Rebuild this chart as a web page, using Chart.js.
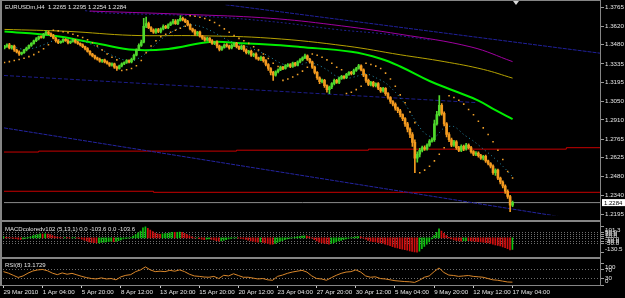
<!DOCTYPE html>
<html>
<head>
<meta charset="utf-8">
<title>EURUSDm,H4</title>
<script src="https://cdn.jsdelivr.net/npm/chart.js@4.4.1/dist/chart.umd.min.js"></script>
<style>
  html, body { margin: 0; padding: 0; background: #000; }
  #wrap { position: relative; width: 625px; height: 298px; overflow: hidden; background: #000; }
  #wrap canvas { position: absolute; left: 0; }
  .ln { position: absolute; background: #858585; }
</style>
</head>
<body>
<div id="wrap">
  <canvas id="priceCv" width="625" height="220" style="top:0"></canvas>
  <canvas id="macdCv" width="625" height="43" style="top:218px"></canvas>
  <canvas id="rsiCv" width="625" height="43" style="top:255px"></canvas>
  <div class="ln" style="left:0;top:0;width:601px;height:1px"></div>
  <div class="ln" style="left:0;top:0;width:2px;height:286px"></div>
  <div class="ln" style="left:600px;top:0;width:1px;height:286px"></div>
  <div class="ln" style="left:0;top:220px;width:601px;height:2px"></div>
  <div class="ln" style="left:0;top:257px;width:601px;height:2px"></div>
  <div class="ln" style="left:0;top:285px;width:601px;height:1px"></div>
</div>
<script>
// --- data (H4 bars, index 0 = first bar on screen) ---
const firstOpen = 1.3455;
const closes = [
  1.3468,1.3480,1.3455,1.3470,1.3440,1.3425,1.3410,1.3420,1.3440,1.3455,1.3475,1.3490,1.3510,1.3525,1.3540,1.3535,
  1.3560,1.3575,1.3565,1.3550,1.3530,1.3510,1.3495,1.3505,1.3520,1.3510,1.3495,1.3505,1.3515,1.3500,1.3490,1.3480,
  1.3465,1.3450,1.3430,1.3410,1.3395,1.3380,1.3370,1.3355,1.3365,1.3350,1.3340,1.3325,1.3335,1.3310,1.3300,1.3320,
  1.3335,1.3345,1.3360,1.3350,1.3370,1.3400,1.3440,1.3475,1.3500,1.3620,1.3640,1.3610,1.3590,1.3575,1.3595,1.3580,
  1.3600,1.3620,1.3610,1.3630,1.3645,1.3660,1.3640,1.3665,1.3680,1.3670,1.3655,1.3630,1.3600,1.3585,1.3560,1.3575,
  1.3545,1.3530,1.3515,1.3530,1.3510,1.3490,1.3500,1.3470,1.3445,1.3460,1.3480,1.3470,1.3455,1.3475,1.3490,1.3465,
  1.3450,1.3470,1.3440,1.3420,1.3430,1.3400,1.3410,1.3380,1.3370,1.3385,1.3360,1.3330,1.3300,1.3270,1.3250,1.3275,
  1.3290,1.3310,1.3300,1.3320,1.3330,1.3315,1.3340,1.3325,1.3350,1.3365,1.3380,1.3395,1.3370,1.3350,1.3310,1.3270,
  1.3230,1.3200,1.3210,1.3170,1.3140,1.3160,1.3185,1.3210,1.3195,1.3225,1.3240,1.3230,1.3255,1.3270,1.3260,1.3285,
  1.3300,1.3320,1.3290,1.3250,1.3210,1.3180,1.3195,1.3170,1.3185,1.3150,1.3130,1.3150,1.3110,1.3080,1.3050,1.3030,
  1.3000,1.2980,1.2950,1.2920,1.2880,1.2840,1.2800,1.2740,1.2620,1.2650,1.2680,1.2700,1.2690,1.2720,1.2750,1.2760,
  1.2880,1.2950,1.3020,1.2960,1.2880,1.2800,1.2760,1.2720,1.2745,1.2700,1.2680,1.2710,1.2690,1.2720,1.2700,1.2670,
  1.2650,1.2660,1.2640,1.2620,1.2635,1.2600,1.2580,1.2560,1.2510,1.2530,1.2470,1.2440,1.2410,1.2370,1.2330,1.2265,
  1.2284
];
// wick lengths in pips above / below the body
const wickUp = [
  8,6,10,5,7,6,9,5,6,8,5,7,6,9,5,8,
  6,10,7,5,8,6,9,5,7,6,8,5,9,6,7,5,
  6,5,8,6,5,7,6,9,5,6,8,5,7,6,9,6,
  7,5,8,6,9,10,8,12,15,60,50,12,8,10,7,9,
  8,10,7,9,8,12,10,8,20,9,7,10,8,6,9,7,
  8,6,9,7,5,8,6,9,7,10,6,8,7,9,6,8,
  7,9,6,8,7,10,6,8,7,9,6,8,7,6,9,8,
  7,9,6,10,8,7,9,6,8,10,9,15,8,7,6,8,
  7,6,9,8,7,6,8,9,7,10,8,6,9,7,8,10,
  9,12,8,7,6,9,8,7,6,9,8,7,6,8,7,6,
  9,8,10,7,9,12,10,15,20,18,15,12,14,10,12,15,
  30,25,74,15,12,10,14,12,10,9,11,12,10,13,9,10,
  8,11,9,10,8,9,7,8,10,9,8,7,9,8,10,9,
  11
];
const wickDn = [
  7,9,6,8,10,7,12,8,6,7,5,8,6,7,9,6,
  7,5,8,9,6,10,7,6,8,5,9,7,6,8,7,9,
  8,9,7,10,8,9,7,8,10,8,7,9,8,10,15,6,
  9,7,6,8,7,6,5,6,8,7,10,9,12,10,9,8,
  10,7,9,8,6,9,7,8,6,9,8,7,8,10,9,12,
  8,10,9,7,12,8,10,15,12,8,7,9,8,7,9,10,
  8,7,10,9,12,8,10,9,8,10,12,10,15,18,40,9,
  8,7,9,6,8,9,7,8,6,7,8,6,8,9,10,12,
  12,15,10,14,20,30,12,9,8,10,7,9,8,7,9,6,
  7,6,9,12,15,10,12,9,10,11,12,10,14,12,15,14,
  15,14,16,15,18,20,25,30,110,30,20,12,10,9,11,8,
  12,10,9,14,15,18,14,12,10,13,11,10,12,9,10,12,
  11,10,12,9,13,11,10,14,12,20,12,15,14,16,15,50,
  11
];
const priceTicks = [1.3765,1.3620,1.3480,1.3335,1.3195,1.3050,1.2910,1.2765,1.2625,1.2480,1.2340,1.2195];
const tickBars = [0,16,32,48,64,80,96,112,128,144,160,176,192,208];
const timeLabels = ['29 Mar 2010','1 Apr 04:00','5 Apr 20:00','8 Apr 12:00','13 Apr 20:00','15 Apr 20:00','20 Apr 12:00',
  '23 Apr 04:00','27 Apr 20:00','30 Apr 12:00','5 May 04:00','9 May 20:00','12 May 12:00','17 May 04:00'];

// moving averages read at sample bars: [bar, price]
const limeMA = [[0,1.3581],[19,1.3551],[39,1.3485],[53,1.3441],[67,1.3448],[84,1.3500],[97,1.3492],[111,1.3478],[121,1.3463],
  [142,1.3426],[154,1.3374],[162,1.3315],[174,1.3205],[184,1.3131],[194,1.3057],[201,1.2984],[208,1.2917]];
const oliveMA = [[0,1.3596],[26,1.3581],[52,1.3551],[80,1.3548],[109,1.3529],[140,1.3470],[162,1.3404],[180,1.3352],[196,1.3293],[208,1.3227]];
const purpleMA = [[35,1.3735],[80,1.3706],[109,1.3680],[134,1.3632],[162,1.3559],[191,1.3463],[208,1.3352]];
const navyMA = [[33,1.3738],[41,1.3721],[78,1.3699],[110,1.3654],[136,1.3595],[157,1.3559],[175,1.3514]];
const tealMA = [1.3470,1.3460,1.3445,1.3455,1.3480,1.3510,1.3520,1.3515,1.3505,1.3480,1.3440,1.3400,1.3370,1.3355,1.3390,1.3450,
  1.3520,1.3570,1.3610,1.3630,1.3620,1.3590,1.3550,1.3510,1.3485,1.3460,1.3430,1.3395,1.3350,1.3320,1.3320,1.3345,1.3330,
  1.3290,1.3240,1.3225,1.3240,1.3260,1.3230,1.3190,1.3120,1.3030,1.2910,1.2810,1.2780,1.2850,1.2860,1.2800,1.2750,1.2690,
  1.2630,1.2560,1.2480]; // every 4th bar
const sar = [
  [0,1.3345],[2,1.3352],[4,1.3360],[6,1.3368],[8,1.3378],[10,1.3390],[12,1.3405],[14,1.3425],[16,1.3450],[18,1.3480],
  [20,1.3590],[22,1.3585],[24,1.3578],[26,1.3570],[28,1.3560],[30,1.3548],[32,1.3535],[34,1.3518],[36,1.3495],[38,1.3470],
  [40,1.3440],[42,1.3410],[44,1.3385],[46,1.3365],
  [48,1.3285],[50,1.3290],[52,1.3300],[54,1.3320],[56,1.3360],[58,1.3420],[60,1.3470],[62,1.3510],[64,1.3540],[66,1.3560],
  [68,1.3575],[70,1.3590],[72,1.3605],[74,1.3620],
  [76,1.3700],[78,1.3695],[80,1.3688],[82,1.3678],[84,1.3665],[86,1.3648],[88,1.3625],[90,1.3600],[92,1.3575],[94,1.3550],
  [96,1.3528],[98,1.3510],[100,1.3490],[102,1.3465],[104,1.3440],[106,1.3410],[108,1.3375],[110,1.3340],[112,1.3315],
  [114,1.3210],[116,1.3220],[118,1.3235],[120,1.3255],[122,1.3280],[124,1.3310],
  [126,1.3410],[128,1.3400],[130,1.3385],[132,1.3365],[134,1.3340],[136,1.3310],[138,1.3290],
  [140,1.3110],[142,1.3120],[144,1.3140],[146,1.3165],
  [148,1.3340],[150,1.3330],[152,1.3318],[154,1.3300],[156,1.3265],[158,1.3220],[160,1.3165],[162,1.3100],[164,1.3040],
  [166,1.2970],[168,1.2890],
  [170,1.2510],[172,1.2530],[174,1.2560],[176,1.2600],[178,1.2650],[180,1.2700],
  [182,1.3094],[184,1.3080],[186,1.3060],[188,1.3030],[190,1.2990],[192,1.2950],[194,1.2900],[196,1.2850],[198,1.2800],
  [200,1.2745],[202,1.2680],[204,1.2610],[206,1.2520],[208,1.2470]
];
// trend lines / levels: [bar, price]
const navyTop = [[90.5,1.3783],[244.2,1.3415]];
const navyMid = [[-0.2,1.3247],[193.5,1.3041]];
const navyLow = [[-0.2,1.2850],[244.2,1.2128]];
const redHigh = [[-0.2,1.2667],[14,1.2674],[95,1.2681],[149,1.2689],[230,1.2700],[244.2,1.2700]];
const redLow = [[-0.2,1.2370],[61,1.2362],[244.2,1.2362]];

const macd = [
  8,5,2,0,-4,-8,-12,-14,-10,-5,2,10,18,25,30,35,
  33,36,34,28,20,12,6,2,0,3,2,-2,0,2,-3,-5,
  -12,-20,-28,-35,-40,-42,-45,-44,-40,-38,-36,-34,-30,-33,-32,-25,
  -18,-10,-5,-2,2,15,30,45,60,90,101.3,85,70,55,42,35,
  32,35,38,40,45,50,48,50,52,48,40,30,18,8,-2,0,
  -8,-12,-15,-12,-10,-14,-18,-25,-30,-28,-22,-15,-10,-5,0,2,
  -2,-6,-10,-14,-20,-28,-30,-35,-38,-36,-40,-45,-50,-55,-57,-50,
  -40,-32,-24,-16,-10,-4,0,4,8,12,16,18,15,8,-2,-15,
  -28,-38,-45,-48,-52,-55,-50,-42,-35,-28,-22,-15,-10,-5,0,5,
  8,12,10,-2,-12,-22,-30,-33,-35,-40,-45,-48,-55,-62,-70,-78,
  -85,-90,-95,-100,-105,-110,-115,-120,-128,-130.5,-118,-95,-75,-55,-35,-10,
  20,50,80,60,40,20,5,-10,-18,-22,-28,-30,-27,-24,-26,-28,
  -30,-32,-34,-36,-38,-42,-46,-50,-55,-62,-68,-72,-80,-88,-96,-108,
  -103.6
];
const macdLevels = [50,30,10,-10,-30,-50];
const macdTicks = [101.3,50,30,10,-10,-30,-50,-130.5];
const rsi8 = [ // every 2nd bar
  62,55,45,35,42,55,65,70,72,66,55,48,56,50,54,47,40,34,30,28,
  33,28,30,24,38,45,48,62,70,84,70,62,64,62,68,64,70,62,50,42,
  40,37,36,40,30,45,42,52,44,36,36,32,28,30,24,22,40,46,54,60,
  64,68,60,42,30,28,22,34,45,54,60,62,70,60,42,36,38,30,28,24,
  20,18,16,15,12,22,36,42,62,79,58,46,44,40,42,44,40,38,36,30,
  24,22,18,14,13.1729
];
const rsiTicks = [100,70,30,0];
const rsiLevels = [70,30];

// --- setup ---
const pip = 0.0001;
const BULL = '#4fd82c', BEAR = '#f39a1f', TXT = '#e4e4e4', GRIDC = '#8c8c8c';
const FONT = { family: 'Liberation Sans', size: 6.2 };
const xMin = -0.2, xMax = 244.2;
Chart.defaults.font.family = 'Liberation Sans';

const opens = closes.map((c, i) => i === 0 ? firstOpen : closes[i - 1]);
const candleColor = closes.map((c, i) => c >= opens[i] ? BULL : BEAR);
const bodies = closes.map((c, i) => ({ x: i, y: [opens[i], c] }));
const wicks = closes.map((c, i) => ({ x: i, y: [Math.min(opens[i], c) - wickDn[i] * pip, Math.max(opens[i], c) + wickUp[i] * pip] }));
const last = closes.length - 1;
const lastBar = { o: opens[last], h: Math.max(opens[last], closes[last]) + wickUp[last] * pip, l: Math.min(opens[last], closes[last]) - wickDn[last] * pip, c: closes[last] };

const pts = arr => arr.map(p => ({ x: p[0], y: p[1] }));
function lineDs(label, data, color, width, dash, order, extra) {
  return Object.assign({ type: 'line', label, data, borderColor: color, borderWidth: width, borderDash: dash || [],
    pointRadius: 0, fill: false, tension: 0, order }, extra || {});
}

const overlay = {
  id: 'overlay',
  afterDraw(chart, args, opts) {
    const ctx = chart.ctx;
    ctx.save();
    ctx.font = '6px "Liberation Sans"';
    ctx.textBaseline = 'middle';
    (opts.texts || []).forEach(t => { ctx.fillStyle = TXT; ctx.fillText(t.text, t.x, t.y); });
    if (opts.box !== undefined) {
      const y = chart.scales.y.getPixelForValue(opts.box);
      ctx.fillStyle = '#ffffff';
      ctx.fillRect(602, y - 3.5, 23, 7);
      ctx.fillStyle = '#000000';
      ctx.fillText(opts.box.toFixed(4), 604, y + 0.5);
    }
    if (opts.shift) {
      ctx.fillStyle = '#d8d8d8';
      ctx.beginPath(); ctx.moveTo(513, 1); ctx.lineTo(519, 1); ctx.lineTo(516, 5); ctx.closePath(); ctx.fill();
    }
    ctx.restore();
  }
};

function xAxis(show) {
  return {
    type: 'linear', min: xMin, max: xMax, offset: false, display: show,
    afterBuildTicks: s => { s.ticks = tickBars.map(v => ({ value: v })); },
    afterFit: s => { if (show) s.height = 13; },
    grid: { drawOnChartArea: false, drawTicks: true, tickLength: 3, color: '#c8c8c8' },
    border: { display: false },
    ticks: { autoSkip: false, maxRotation: 0, minRotation: 0, align: 'start', padding: 1, color: TXT, font: FONT,
      callback: (v, i) => timeLabels[i] }
  };
}
function yAxis(min, max, ticks, fmt, levels) {
  return {
    position: 'right', min, max,
    afterFit: s => { s.width = 24; },
    afterBuildTicks: s => { s.ticks = ticks.map(v => ({ value: v })); },
    grid: {
      drawOnChartArea: !!levels, drawTicks: true, tickLength: 3,
      color: ctx => (levels && ctx.tick && levels.includes(ctx.tick.value)) ? '#6e6e6e' : 'rgba(0,0,0,0)',
      tickColor: '#9a9a9a'
    },
    border: { display: false, dash: [1, 2] },
    ticks: { autoSkip: false, padding: 1, color: TXT, font: FONT, callback: fmt }
  };
}
const common = { responsive: false, animation: false, devicePixelRatio: 1, events: [],
  plugins: { legend: { display: false }, tooltip: { enabled: false } } };

// --- price window ---
new Chart(document.getElementById('priceCv'), {
  type: 'bar',
  plugins: [overlay],
  data: { datasets: [
    { label: 'body', data: bodies, backgroundColor: candleColor, barThickness: 2, grouped: false, minBarLength: 1, borderWidth: 0, order: 0 },
    { label: 'wick', data: wicks, backgroundColor: candleColor, barThickness: 1, grouped: false, borderWidth: 0, order: 1 },
    lineDs('sar', pts(sar), '#f5a623', 0, [], 2, { showLine: false, pointRadius: 1.1, pointStyle: 'rect', pointBackgroundColor: '#f0a028', pointBorderWidth: 0 }),
    lineDs('teal', tealMA.map((v, k) => ({ x: k * 4, y: v })), '#2590b0', 1, [1, 3], 3, { tension: 0.3 }),
    lineDs('lime', pts(limeMA), '#00ee00', 2, [], 4, { tension: 0.4 }),
    lineDs('olive', pts(oliveMA), '#b5a200', 1, [], 4, { tension: 0.4 }),
    lineDs('purple', pts(purpleMA), '#a000a0', 1, [], 4, { tension: 0.4 }),
    lineDs('navyMA', pts(navyMA), '#20208c', 1, [2, 2], 5, { tension: 0.4 }),
    lineDs('navyTop', pts(navyTop), '#20209a', 1, [4, 1], 5),
    lineDs('navyMid', pts(navyMid), '#1c1c88', 1, [4, 2], 5),
    lineDs('navyLow', pts(navyLow), '#2424a0', 1, [4, 1], 5),
    lineDs('redHigh', pts(redHigh), '#c80000', 1, [], 6, { stepped: true }),
    lineDs('redLow', pts(redLow), '#c80000', 1, [], 6, { stepped: true }),
    lineDs('bid', [{ x: xMin, y: lastBar.c }, { x: xMax, y: lastBar.c }], '#8a8a8a', 1, [], 7)
  ]},
  options: Object.assign({}, common, {
    layout: { padding: { left: 3, right: 0, top: 2, bottom: 1 } },
    scales: { x: xAxis(false), y: yAxis(1.2188, 1.3783, priceTicks, v => v.toFixed(4)) },
    plugins: Object.assign({}, common.plugins, {
      overlay: { texts: [{ text: `EURUSDm,H4  ${lastBar.o.toFixed(4)} ${lastBar.h.toFixed(4)} ${lastBar.l.toFixed(4)} ${lastBar.c.toFixed(4)}`, x: 5, y: 7.5 }],
        box: lastBar.c, shift: true }
    })
  })
});

// --- MACD window ---
new Chart(document.getElementById('macdCv'), {
  type: 'bar',
  plugins: [overlay],
  data: { datasets: [{
    label: 'MACD', data: macd.map((v, i) => ({ x: i, y: v })),
    backgroundColor: macd.map((v, i) => (i === 0 || v >= macd[i - 1]) ? '#10c010' : '#d01010'),
    barThickness: 1, borderWidth: 0
  }]},
  options: Object.assign({}, common, {
    layout: { padding: { left: 3, right: 0, top: 5, bottom: 5 } },
    scales: { x: xAxis(false), y: yAxis(-130.5, 101.3, macdTicks, v => v === 101.3 ? ['', '101.3'] : v === -130.5 ? ['-130.5', ''] : v.toFixed(1), macdLevels) },
    plugins: Object.assign({}, common.plugins, {
      overlay: { texts: [{ text: 'MACDcoloredv102 (5,13,1) 0.0 -103.6 0.0 -103.6', x: 5, y: 11 }] }
    })
  })
});

// --- RSI window + time axis ---
new Chart(document.getElementById('rsiCv'), {
  type: 'line',
  plugins: [overlay],
  data: { datasets: [lineDs('RSI', rsi8.map((v, k) => ({ x: k * 2, y: v })), '#d8862a', 1, [], 0)] },
  options: Object.assign({}, common, {
    layout: { padding: { left: 3, right: 0, top: 5, bottom: 0 } },
    scales: { x: xAxis(true), y: yAxis(0, 100, rsiTicks, v => v === 100 ? ['', '100'] : v === 0 ? ['0', ''] : String(v), rsiLevels) },
    plugins: Object.assign({}, common.plugins, {
      overlay: { texts: [{ text: 'RSI(8) ' + rsi8[rsi8.length - 1].toFixed(4), x: 5, y: 10 }] }
    })
  })
});
</script>
</body>
</html>
